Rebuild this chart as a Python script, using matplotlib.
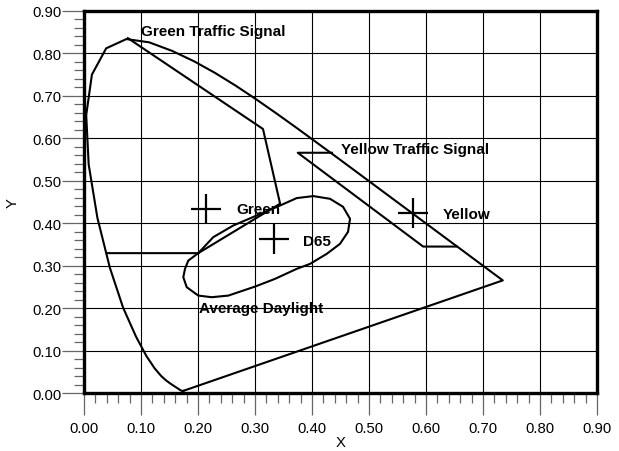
import matplotlib
matplotlib.use("Agg")
import matplotlib.pyplot as plt
from matplotlib.ticker import MultipleLocator, FormatStrFormatter

plt.rcParams["font.family"] = ["Liberation Sans", "DejaVu Sans"]

# CIE 1931 spectral locus, 380-700 nm every 5 nm
locus_x = [0.1741, 0.1740, 0.1738, 0.1736, 0.1733, 0.1730, 0.1726, 0.1721, 0.1714,
           0.1703, 0.1689, 0.1669, 0.1644, 0.1611, 0.1566, 0.1510, 0.1440, 0.1355,
           0.1241, 0.1096, 0.0913, 0.0687, 0.0454, 0.0235, 0.0082, 0.0039, 0.0139,
           0.0389, 0.0743, 0.1142, 0.1547, 0.1929, 0.2296, 0.2658, 0.3016, 0.3373,
           0.3731, 0.4087, 0.4441, 0.4788, 0.5125, 0.5448, 0.5752, 0.6029, 0.6270,
           0.6482, 0.6658, 0.6801, 0.6915, 0.7006, 0.7079, 0.7140, 0.7190, 0.7230,
           0.7260, 0.7283, 0.7300, 0.7311, 0.7320, 0.7327, 0.7334, 0.7340, 0.7344,
           0.7346, 0.7347]
locus_y = [0.0050, 0.0050, 0.0049, 0.0049, 0.0048, 0.0048, 0.0048, 0.0048, 0.0051,
           0.0058, 0.0069, 0.0086, 0.0109, 0.0138, 0.0177, 0.0227, 0.0297, 0.0399,
           0.0578, 0.0868, 0.1327, 0.2007, 0.2950, 0.4127, 0.5384, 0.6548, 0.7502,
           0.8120, 0.8338, 0.8262, 0.8059, 0.7816, 0.7543, 0.7243, 0.6923, 0.6589,
           0.6245, 0.5896, 0.5547, 0.5202, 0.4866, 0.4544, 0.4242, 0.3965, 0.3725,
           0.3514, 0.3340, 0.3197, 0.3083, 0.2993, 0.2920, 0.2859, 0.2809, 0.2770,
           0.2740, 0.2717, 0.2700, 0.2689, 0.2680, 0.2673, 0.2666, 0.2660, 0.2656,
           0.2654, 0.2653]

# Traffic signal boundaries
green_sig_x = [0.077, 0.314, 0.344, 0.2005, 0.040]
green_sig_y = [0.836, 0.622, 0.446, 0.3295, 0.3295]
yellow_sig_x = [0.435, 0.375, 0.595, 0.654]
yellow_sig_y = [0.566, 0.566, 0.345, 0.345]

# Average daylight region
daylight_x = [0.2005, 0.2268, 0.2619, 0.3030, 0.3439, 0.3732, 0.4023, 0.4316, 0.4544,
              0.4667, 0.4632, 0.4491, 0.4258, 0.3965, 0.3732, 0.3351, 0.3000, 0.2532,
              0.2240, 0.2005, 0.1802, 0.1742, 0.1772, 0.1830, 0.2005]
daylight_y = [0.3295, 0.3672, 0.3946, 0.4182, 0.4417, 0.4592, 0.4639, 0.4575, 0.4387,
              0.4104, 0.3797, 0.3514, 0.3278, 0.3042, 0.2925, 0.2689, 0.2507, 0.2295,
              0.2257, 0.2295, 0.2493, 0.2729, 0.2925, 0.3120, 0.3295]

# Marked chromaticity points
point_names = ["Green", "D65", "Yellow"]
point_x = [0.214, 0.334, 0.578]
point_y = [0.434, 0.362, 0.424]

fig = plt.figure(figsize=(6.19, 4.52), dpi=100)
ax = fig.add_axes([0.1357, 0.1283, 0.8288, 0.8452])

lw = 1.5
ax.plot(locus_x + [locus_x[0]], locus_y + [locus_y[0]], color="black", lw=lw, zorder=3)
ax.plot(green_sig_x, green_sig_y, color="black", lw=lw, zorder=3)
ax.plot(yellow_sig_x, yellow_sig_y, color="black", lw=lw, zorder=3)
ax.plot(daylight_x, daylight_y, color="black", lw=lw, zorder=3)
ax.plot(point_x, point_y, linestyle="none", marker="+", markersize=22,
        markeredgewidth=1.6, color="black", zorder=4)

lab = dict(fontsize=11, fontweight="bold", va="center", ha="left", zorder=5)
ax.text(0.100, 0.854, "Green Traffic Signal", **lab)
ax.text(0.451, 0.575, "Yellow Traffic Signal", **lab)
ax.text(0.268, 0.434, "Green", **lab)
ax.text(0.385, 0.359, "D65", **lab)
ax.text(0.629, 0.422, "Yellow", **lab)
ax.text(0.202, 0.200, "Average Daylight", **lab)

ax.set_xlim(0, 0.9)
ax.set_ylim(0, 0.9)
ax.xaxis.set_major_locator(MultipleLocator(0.1))
ax.yaxis.set_major_locator(MultipleLocator(0.1))
ax.xaxis.set_minor_locator(MultipleLocator(0.02))
ax.yaxis.set_minor_locator(MultipleLocator(0.02))
ax.xaxis.set_major_formatter(FormatStrFormatter("%.2f"))
ax.yaxis.set_major_formatter(FormatStrFormatter("%.2f"))

ax.grid(which="major", color="black", lw=0.8, zorder=1)
for s in ax.spines.values():
    s.set_linewidth(2.4)
    s.set_zorder(6)

ax.tick_params(axis="x", which="major", direction="out", length=15.5, width=0.9,
               color="#666666", labelsize=10.7, pad=5)
ax.tick_params(axis="y", which="major", direction="out", length=15.5, width=0.9,
               color="#666666", labelsize=10.7, pad=0.5)
ax.tick_params(which="minor", direction="out", length=7.5, width=0.9, color="#666666")

ax.set_xlabel("X", fontsize=10.7, labelpad=0)
ax.set_ylabel("Y", fontsize=10.7, labelpad=9)

fig.savefig("out.png", dpi=100)
